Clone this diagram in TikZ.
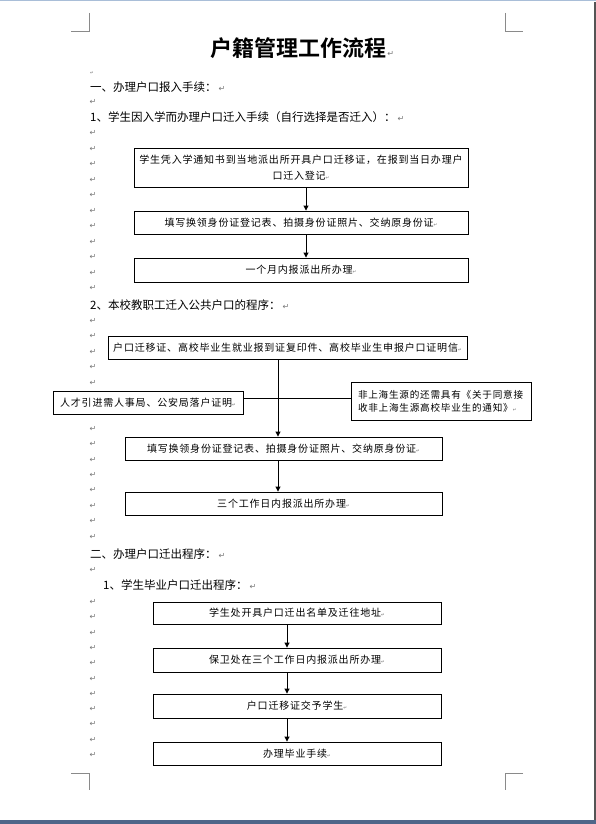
\documentclass[tikz,border=0pt]{standalone}
\usepackage{fontspec}
\usetikzlibrary{arrows.meta}
\newfontfamily\cjk{Noto Sans CJK SC}
\newfontfamily\cjkb{Noto Sans CJK SC Bold}
\newfontfamily\boxfont[LetterSpace=8]{Noto Sans CJK SC}
\newfontfamily\djv{DejaVu Sans}
\definecolor{markgray}{HTML}{777777}
\definecolor{cropgray}{HTML}{8A8A8A}
\definecolor{topblue}{HTML}{A9BED8}
\definecolor{barblue}{HTML}{4F6689}
\definecolor{edgegray}{HTML}{555555}
\newcommand\rmk{{\djv\fontsize{8}{8}\selectfont\color{markgray}↵}}
\newcommand\bmk{{\djv\fontsize{4.5}{4.5}\selectfont\color{markgray}↵}}
\tikzset{
  head/.style={anchor=west, inner sep=0pt, font=\cjk\fontsize{11.5}{14}\selectfont},
  mk/.style={inner sep=0pt, font=\djv\fontsize{8}{8}\selectfont, text=markgray},
  fbox/.style={draw, line width=0.9pt, fill=white, inner sep=0pt, align=center,
    font=\boxfont\fontsize{10}{16}\selectfont},
  arr/.style={line width=0.9pt, -{Triangle[length=5pt,width=5pt]}},
  conn/.style={line width=0.9pt},
  crop/.style={draw=cropgray, line width=0.8pt}
}
\begin{document}
\begin{tikzpicture}[x=1pt,y=-1pt]
\useasboundingbox (0,0) rectangle (596,824);
\fill[white] (0,0) rectangle (596,824);
% page frame
\fill[topblue] (0,0) rectangle (596,1.5);
\draw[edgegray, line width=1.2pt] (595,2) -- (595,820);
\fill[barblue] (0,820) rectangle (596,824);
% crop marks
\draw[crop] (89,13) -- (89,31) -- (71,31);
\draw[crop] (505,13) -- (505,31) -- (523,31);
\draw[crop] (71,773) -- (89,773) -- (89,790);
\draw[crop] (523,773) -- (505,773) -- (505,790);
% title
\node[inner sep=0pt, font=\cjkb\fontsize{22}{26}\selectfont] (title) at (298,48) {户籍管理工作流程};
\node[anchor=base west, inner sep=0pt] (tmk) at ([xshift=1pt]title.base east) {\rmk};
% headings
\node[mk, font=\djv\fontsize{4.5}{4.5}\selectfont] (m0) at (92,73) {↵};
\node[head] (h1) at (90,87) {一、办理户口报入手续：\,\rmk};
\node[mk] (m1) at (93,102) {↵};
\node[head] (h2) at (90,117) {1、学生因入学而办理户口迁入手续（自行选择是否迁入）：\,\rmk};
\foreach \k in {0,...,10} { \node[mk] at (93,{133+15.5*\k}) {↵}; }
\node[head] (h3) at (90,305) {2、本校教职工迁入公共户口的程序：\,\rmk};
\foreach \k in {0,...,4,7,8,...,14} { \node[mk] at (93,{321+15.4*\k}) {↵}; }
\node[head] (h4) at (90,554) {二、办理户口迁出程序：\,\rmk};
\node[mk] (m2) at (93,570) {↵};
\node[head] (h5) at (103,585) {1、学生毕业户口迁出程序：\,\rmk};
\foreach \k in {0,...,10} { \node[mk] at (93,{602+15.3*\k}) {↵}; }
% section 1 boxes
\node[fbox, minimum width=334pt, minimum height=39pt] (b1) at (301,167.5)
  {学生凭入学通知书到当地派出所开具户口迁移证，在报到当日办理户\\口迁入登记\bmk};
\node[fbox, minimum width=334pt, minimum height=23pt] (b2) at (301,222.5)
  {填写换领身份证登记表、拍摄身份证照片、交纳原身份证\bmk};
\node[fbox, minimum width=334pt, minimum height=24pt] (b3) at (301,270)
  {一个月内报派出所办理\bmk};
\draw[arr] ([xshift=5pt]b1.south) -- ([xshift=5pt]b2.north);
\draw[arr] ([xshift=5pt]b2.south) -- ([xshift=5pt]b3.north);
% section 2 boxes
\node[fbox, minimum width=359pt, minimum height=23pt] (b4) at (287.5,347.5)
  {户口迁移证、高校毕业生就业报到证复印件、高校毕业生申报户口证明信\bmk};
\node[fbox, minimum width=190pt, minimum height=23pt] (lb) at (148,402.5)
  {人才引进需人事局、公安局落户证明\bmk};
\node[fbox, minimum width=180pt, minimum height=38pt, align=left, inner xsep=7pt,
  font=\boxfont\fontsize{9.6}{13}\selectfont, text width=166pt] (rb) at (441,401)
  {非上海生源的还需具有《关于同意接\\收非上海生源高校毕业生的通知》\bmk};
\node[fbox, minimum width=317pt, minimum height=23pt] (b5) at (283.5,448.5)
  {填写换领身份证登记表、拍摄身份证照片、交纳原身份证\bmk};
\node[fbox, minimum width=317pt, minimum height=23pt] (b6) at (283.5,503.5)
  {三个工作日内报派出所办理\bmk};
\coordinate (j) at (278,398);
\draw[conn] (lb.east |- j) -- (rb.west |- j);
\draw[arr] ([xshift=-9.5pt]b4.south) -- ([xshift=-5.5pt]b5.north);
\draw[arr] ([xshift=-5.5pt]b5.south) -- ([xshift=-5.5pt]b6.north);
% section 3 boxes
\node[fbox, minimum width=288pt, minimum height=22pt] (b7) at (297,613)
  {学生处开具户口迁出名单及迁往地址\bmk};
\node[fbox, minimum width=288pt, minimum height=24pt] (b8) at (297,660)
  {保卫处在三个工作日内报派出所办理\bmk};
\node[fbox, minimum width=288pt, minimum height=24pt] (b9) at (297,706)
  {户口迁移证交予学生\bmk};
\node[fbox, minimum width=288pt, minimum height=23pt] (b10) at (297,753.5)
  {办理毕业手续\bmk};
\draw[arr] ([xshift=-10pt]b7.south) -- ([xshift=-10pt]b8.north);
\draw[arr] ([xshift=-10pt]b8.south) -- ([xshift=-10pt]b9.north);
\draw[arr] ([xshift=-10pt]b9.south) -- ([xshift=-10pt]b10.north);
\end{tikzpicture}
\end{document}
